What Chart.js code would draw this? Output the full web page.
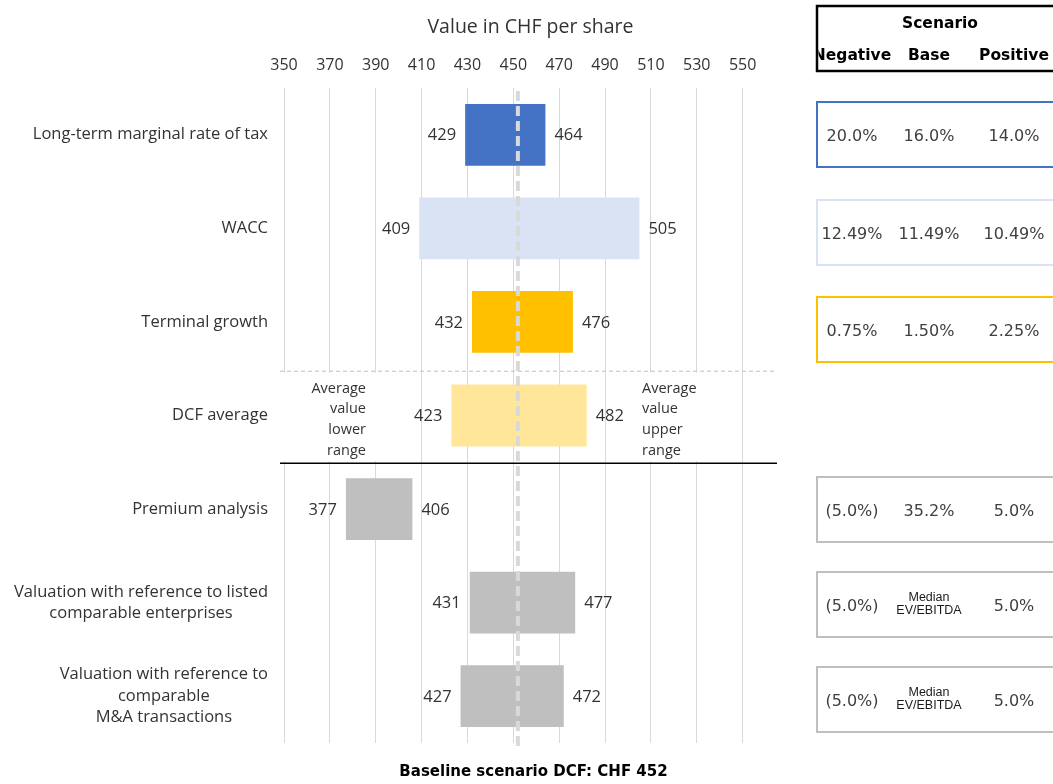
<!DOCTYPE html>
<html>
<head>
<meta charset="utf-8">
<script src="https://cdn.jsdelivr.net/npm/chart.js@4/dist/chart.umd.min.js"></script>
<style>
  html, body { margin: 0; padding: 0; background: #ffffff; }
  #wrap { width: 1053px; height: 784px; }
</style>
</head>
<body>
<div id="wrap"><canvas id="chart" width="1053" height="784"></canvas></div>
<script>
// Valuation ranges (CHF per share) by method / sensitivity
const categories = [
  ['Long-term marginal rate of tax'],
  ['WACC'],
  ['Terminal growth'],
  ['DCF average'],
  ['Premium analysis'],
  ['Valuation with reference to listed', 'comparable enterprises'],
  ['Valuation with reference to', 'comparable', 'M&A transactions']
];
const lowValues  = [429, 409, 432, 423, 377, 431, 427];
const highValues = [464, 505, 476, 482, 406, 477, 472];
const baselineValue = 452;
const xTicks = [350, 370, 390, 410, 430, 450, 470, 490, 510, 530, 550];

// Scenario assumptions table (one row per method, DCF average has none)
const scenarioHeaders = ['Negative', 'Base', 'Positive'];
const scenarioNegative = ['20.0%', '12.49%', '0.75%', null, '(5.0%)', '(5.0%)', '(5.0%)'];
const scenarioBase     = ['16.0%', '11.49%', '1.50%', null, '35.2%', 'Median\nEV/EBITDA', 'Median\nEV/EBITDA'];
const scenarioPositive = ['14.0%', '10.49%', '2.25%', null, '5.0%', '5.0%', '5.0%'];

// Styling
const barColors = ['#4472C4', '#DAE3F3', '#FFC000', '#FFE699', '#BFBFBF', '#BFBFBF', '#BFBFBF'];
const SANS = '"Open Sans", "Noto Sans", sans-serif';
const TABLE_FONT = '"DejaVu Sans", Verdana, sans-serif';
const TEXT = '#333333';
const tableBoxTop = [102, 200, 297, null, 477, 572, 667];
const tableBoxHeight = 65;
const tableColX = [852, 929, 1014];

const overlay = {
  id: 'overlay',
  beforeDatasetsDraw(chart) {
    const { ctx, chartArea: a, scales: { y } } = chart;
    ctx.save();
    // separators around the DCF average row
    const b1 = (y.getPixelForValue(2) + y.getPixelForValue(3)) / 2 + 2;
    const b2 = (y.getPixelForValue(3) + y.getPixelForValue(4)) / 2 + 1;
    // white backing for the range notes
    ctx.fillStyle = '#ffffff';
    ctx.fillRect(a.left - 2, b1 + 2, 98, b2 - b1 - 4);
    ctx.fillRect(a.left + 348, b1 + 2, 90, b2 - b1 - 4);

    ctx.strokeStyle = '#BFBFBF';
    ctx.lineWidth = 1;
    ctx.setLineDash([4, 3]);
    ctx.beginPath();
    ctx.moveTo(a.left - 4, b1 + 0.5);
    ctx.lineTo(a.right, b1 + 0.5);
    ctx.stroke();
    ctx.setLineDash([]);
    ctx.strokeStyle = '#000000';
    ctx.lineWidth = 1.5;
    ctx.beginPath();
    ctx.moveTo(a.left - 4, b2);
    ctx.lineTo(a.right, b2);
    ctx.stroke();

    // range notes
    const cy = y.getPixelForValue(3) + 4;
    const lh = 20.7;
    const lines1 = ['Average', 'value', 'lower', 'range'];
    const lines2 = ['Average', 'value', 'upper', 'range'];
    ctx.font = '14.5px ' + SANS;
    ctx.fillStyle = TEXT;
    ctx.textBaseline = 'middle';
    lines1.forEach((t, k) => {
      ctx.textAlign = 'right';
      ctx.fillText(t, a.left + 82, cy + (k - 1.5) * lh);
    });
    lines2.forEach((t, k) => {
      ctx.textAlign = 'left';
      ctx.fillText(t, a.left + 358, cy + (k - 1.5) * lh);
    });
    ctx.restore();
  },
  afterDatasetsDraw(chart) {
    const { ctx, chartArea: a, scales: { x, y } } = chart;
    ctx.save();
    // baseline marker
    const bx = x.getPixelForValue(baselineValue);
    ctx.strokeStyle = '#D9D9D9';
    ctx.lineWidth = 4;
    ctx.setLineDash([10, 5]);
    ctx.beginPath();
    ctx.moveTo(bx, a.top + 3);
    ctx.lineTo(bx, a.bottom + 4);
    ctx.stroke();
    ctx.setLineDash([]);

    // value labels at both ends of each bar
    ctx.font = '16.5px ' + SANS;
    ctx.fillStyle = TEXT;
    ctx.textBaseline = 'middle';
    categories.forEach((c, i) => {
      const cy = y.getPixelForValue(i) + 1;
      ctx.textAlign = 'right';
      ctx.fillText(String(lowValues[i]), x.getPixelForValue(lowValues[i]) - 9, cy);
      ctx.textAlign = 'left';
      ctx.fillText(String(highValues[i]), x.getPixelForValue(highValues[i]) + 9, cy);
    });

    // category labels: block right-aligned, lines centred within the block
    ctx.font = '16.5px ' + SANS;
    const right = a.left - 16;
    const lh = 21.5;
    categories.forEach((lines, i) => {
      const cy = y.getPixelForValue(i);
      const w = Math.max(...lines.map(t => ctx.measureText(t).width));
      ctx.textAlign = 'center';
      lines.forEach((t, k) => {
        ctx.fillText(t, right - w / 2, cy + (k - (lines.length - 1) / 2) * lh);
      });
    });

    // baseline caption
    ctx.font = 'bold 15px ' + TABLE_FONT;
    ctx.fillStyle = '#000000';
    ctx.textAlign = 'center';
    ctx.fillText('Baseline scenario DCF: CHF ' + baselineValue, (a.left + a.right) / 2 + 3, a.bottom + 29);

    // scenario table
    const bx0 = a.right + 40;
    ctx.lineWidth = 2.5;
    ctx.strokeStyle = '#000000';
    ctx.strokeRect(bx0, 6, 300, 65);
    ctx.save();
    ctx.beginPath();
    ctx.rect(bx0 + 1.5, 6, 300, 65);
    ctx.clip();
    ctx.font = 'bold 15.5px ' + TABLE_FONT;
    ctx.fillStyle = '#000000';
    ctx.textAlign = 'center';
    ctx.fillText('Scenario', 940, 24);
    scenarioHeaders.forEach((h, k) => ctx.fillText(h, tableColX[k], 56));
    ctx.restore();

    categories.forEach((c, i) => {
      if (tableBoxTop[i] === null) return;
      const top = tableBoxTop[i];
      const mid = top + tableBoxHeight / 2 + 2;
      ctx.lineWidth = 2;
      ctx.strokeStyle = barColors[i];
      ctx.strokeRect(bx0, top, 300, tableBoxHeight);
      const vals = [scenarioNegative[i], scenarioBase[i], scenarioPositive[i]];
      ctx.textAlign = 'center';
      vals.forEach((v, k) => {
        const parts = v.split('\n');
        if (parts.length > 1) {
          ctx.font = '12.5px "Liberation Sans", Arial, sans-serif';
          ctx.fillStyle = '#1a1a1a';
          parts.forEach((p, j) => ctx.fillText(p, tableColX[k], mid - 2 + (j - 0.5) * 13));
        } else {
          ctx.font = '16px ' + TABLE_FONT;
          ctx.fillStyle = '#404040';
          ctx.fillText(v, tableColX[k], mid);
        }
      });
    });
    ctx.restore();
  }
};

new Chart(document.getElementById('chart'), {
  type: 'bar',
  data: {
    labels: categories,
    datasets: [{
      data: lowValues.map((lo, i) => [lo, highValues[i]]),
      backgroundColor: barColors,
      borderWidth: 0,
      barPercentage: 0.66,
      categoryPercentage: 1
    }]
  },
  options: {
    indexAxis: 'y',
    responsive: false,
    animation: false,
    layout: { padding: { left: 0, right: 276, top: 0, bottom: 41 } },
    scales: {
      x: {
        position: 'top',
        min: 350,
        max: 565,
        afterBuildTicks: s => { s.ticks = xTicks.map(v => ({ value: v })); },
        afterFit: s => { s.height = 88; },
        grid: { color: '#D9D9D9', lineWidth: 1, drawTicks: false },
        border: { display: false },
        ticks: { color: TEXT, font: { family: SANS, size: 16 }, padding: 13, maxRotation: 0 },
        title: {
          display: true,
          text: 'Value in CHF per share',
          color: TEXT,
          font: { family: SANS, size: 19.5 },
          padding: { top: 16, bottom: 0 }
        }
      },
      y: {
        afterFit: s => { s.width = 284; },
        grid: { display: false, drawTicks: false },
        border: { display: false },
        ticks: { display: false }
      }
    },
    plugins: { legend: { display: false }, tooltip: { enabled: false } }
  },
  plugins: [overlay]
});
</script>
</body>
</html>
